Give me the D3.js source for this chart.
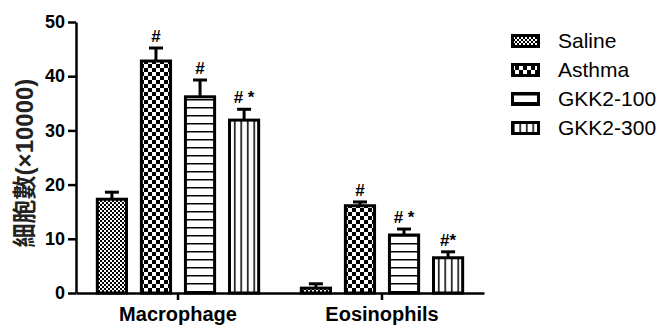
<!DOCTYPE html>
<html>
<head>
<meta charset="utf-8">
<script src="https://cdn.jsdelivr.net/npm/d3@7"></script>
<style>
  body { margin: 0; background: #fff; }
  text { font-family: "Liberation Sans", Arial, "Noto Sans CJK TC", sans-serif; }
</style>
</head>
<body>
<svg class="chart"></svg>
<script>
var width = 662, height = 325;

// data
var categories = ["Macrophage", "Eosinophils"];
var groups = ["Saline", "Asthma", "GKK2-100", "GKK2-300"];
var means = [
    [17.3, 42.8, 36.2, 31.9],
    [0.9, 16.1, 10.7, 6.5]
];
var errors = [
    [1.3, 2.4, 3.1, 2.0],
    [0.8, 0.7, 1.1, 1.1]
];
var marks = [
    ["", "#", "#", "# *"],
    ["", "#", "# *", "#*"]
];
var yTicks = [0, 10, 20, 30, 40, 50];

var chart = d3.select(".chart")
    .attr("width", width)
    .attr("height", height);

// fill patterns
var defs = chart.append("defs");

var p0 = defs.append("pattern").attr("id", "pat0")
    .attr("patternUnits", "userSpaceOnUse").attr("width", 4).attr("height", 4);
p0.append("rect").attr("width", 4).attr("height", 4).attr("fill", "#fff");
p0.append("rect").attr("width", 2).attr("height", 2).attr("fill", "#000");
p0.append("rect").attr("x", 2).attr("y", 2).attr("width", 2).attr("height", 2).attr("fill", "#000");

var p1 = defs.append("pattern").attr("id", "pat1")
    .attr("patternUnits", "userSpaceOnUse").attr("width", 8).attr("height", 8);
p1.append("rect").attr("width", 8).attr("height", 8).attr("fill", "#fff");
p1.append("rect").attr("width", 4).attr("height", 4).attr("fill", "#000");
p1.append("rect").attr("x", 4).attr("y", 4).attr("width", 4).attr("height", 4).attr("fill", "#000");

var p2 = defs.append("pattern").attr("id", "pat2")
    .attr("patternUnits", "userSpaceOnUse").attr("width", 8).attr("height", 8);
p2.append("rect").attr("width", 8).attr("height", 8).attr("fill", "#fff");
p2.append("rect").attr("y", 3).attr("width", 8).attr("height", 1.5).attr("fill", "#000");

var p3 = defs.append("pattern").attr("id", "pat3")
    .attr("patternUnits", "userSpaceOnUse").attr("width", 6.5).attr("height", 8);
p3.append("rect").attr("width", 6.5).attr("height", 8).attr("fill", "#fff");
p3.append("rect").attr("x", 2).attr("width", 1.5).attr("height", 8).attr("fill", "#000");

var patFill = function(i) { return "url(#pat" + i + ")"; };

// scales
var x0 = d3.scaleBand()
    .domain(categories)
    .range([76, 484]);

var x1 = d3.scaleBand()
    .domain(groups)
    .range([0, x0.bandwidth()])
    .paddingInner(0.27)
    .paddingOuter(0.45);

var y_scale = d3.scaleLinear()
    .domain([0, 50])
    .range([293, 22]);

// bars
var group = chart.selectAll("g.grp")
    .data(categories)
    .enter().append("g")
    .attr("class", "grp")
    .attr("transform", function(d) { return "translate(" + x0(d) + ",0)"; });

var bar = group.selectAll("g.bar")
    .data(function(d, ci) {
        return groups.map(function(g, gi) {
            return {group: g, gi: gi, value: means[ci][gi], err: errors[ci][gi], mark: marks[ci][gi]};
        });
    })
    .enter().append("g")
    .attr("class", "bar");

var bw = x1.bandwidth();

// error bars first, bar drawn over the lower half
bar.append("line")
    .attr("x1", function(d) { return x1(d.group) + bw / 2; })
    .attr("x2", function(d) { return x1(d.group) + bw / 2; })
    .attr("y1", function(d) { return y_scale(d.value); })
    .attr("y2", function(d) { return y_scale(d.value + d.err); })
    .attr("stroke", "#000").attr("stroke-width", 3);

bar.append("line")
    .attr("x1", function(d) { return x1(d.group) + bw / 2 - 7; })
    .attr("x2", function(d) { return x1(d.group) + bw / 2 + 7; })
    .attr("y1", function(d) { return y_scale(d.value + d.err); })
    .attr("y2", function(d) { return y_scale(d.value + d.err); })
    .attr("stroke", "#000").attr("stroke-width", 3);

bar.append("rect")
    .attr("x", function(d) { return x1(d.group) + 1.5; })
    .attr("width", bw - 3)
    .attr("y", function(d) { return y_scale(d.value); })
    .attr("height", function(d) { return y_scale(0) - y_scale(d.value); })
    .attr("fill", function(d) { return patFill(d.gi); })
    .attr("stroke", "#000")
    .attr("stroke-width", 3);

bar.append("text")
    .attr("x", function(d) { return x1(d.group) + bw / 2; })
    .attr("y", function(d) { return y_scale(d.value + d.err) - 6; })
    .attr("text-anchor", "middle")
    .attr("font-size", 17)
    .attr("font-weight", "bold")
    .text(function(d) { return d.mark; });

// axes
var x_axis = d3.axisBottom(x0).tickSize(7).tickSizeOuter(0);
var y_axis = d3.axisLeft(y_scale).tickValues(yTicks).tickSize(8).tickSizeOuter(0);

var xg = chart.append("g")
    .attr("transform", "translate(0,293)")
    .call(x_axis);
xg.select(".domain").attr("stroke-width", 2.5);
xg.selectAll(".tick line").attr("stroke-width", 2.5);
xg.selectAll(".tick text")
    .attr("y", 14)
    .attr("font-size", 20)
    .attr("font-weight", "bold")
    .attr("fill", "#000");

var yg = chart.append("g")
    .attr("transform", "translate(76,0)")
    .call(y_axis);
yg.select(".domain").attr("stroke-width", 2.5);
yg.selectAll(".tick line").attr("stroke-width", 2.5);
yg.selectAll(".tick text")
    .attr("x", -11)
    .attr("font-size", 18)
    .attr("font-weight", "bold")
    .attr("fill", "#000");

chart.append("text")
    .attr("transform", "translate(33,163) rotate(-90)")
    .attr("text-anchor", "middle")
    .attr("font-size", 24)
    .attr("font-weight", "bold")
    .attr("fill", "#222")
    .text("細胞數(×10000)");

// legend
var legend = chart.selectAll("g.leg")
    .data(groups)
    .enter().append("g")
    .attr("class", "leg")
    .attr("transform", function(d, i) { return "translate(511," + (41 + i * 29) + ")"; });

legend.append("rect")
    .attr("x", 1.5).attr("y", -5.5)
    .attr("width", 26).attr("height", 11)
    .attr("fill", function(d, i) { return patFill(i); })
    .attr("stroke", "#000").attr("stroke-width", 3);

legend.append("text")
    .attr("x", 47)
    .attr("dy", "0.35em")
    .attr("font-size", 21)
    .attr("fill", "#000")
    .text(function(d) { return d; });
</script>
</body>
</html>
